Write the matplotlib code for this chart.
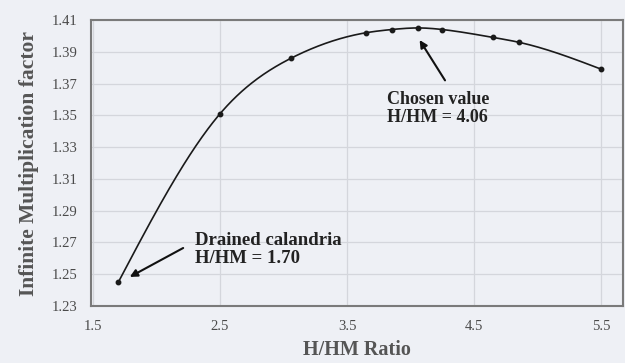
import numpy as np
import matplotlib
matplotlib.use("Agg")
import matplotlib.pyplot as plt

hhm_ratio = [1.70, 2.50, 3.06, 3.65, 3.85, 4.06, 4.25, 4.65, 4.85, 5.50]
k_inf = [1.245, 1.351, 1.386, 1.402, 1.404, 1.405, 1.404, 1.399, 1.396, 1.379]
x_ticks = [1.5, 2.5, 3.5, 4.5, 5.5]
y_ticks = [1.23, 1.25, 1.27, 1.29, 1.31, 1.33, 1.35, 1.37, 1.39, 1.41]


def natural_spline(xs, ys, n=400):
    xs = np.asarray(xs, float); ys = np.asarray(ys, float)
    m = len(xs); h = np.diff(xs)
    A = np.zeros((m, m)); r = np.zeros(m)
    A[0, 0] = A[-1, -1] = 1
    for i in range(1, m-1):
        A[i, i-1] = h[i-1]; A[i, i] = 2*(h[i-1]+h[i]); A[i, i+1] = h[i]
        r[i] = 3*((ys[i+1]-ys[i])/h[i] - (ys[i]-ys[i-1])/h[i-1])
    c = np.linalg.solve(A, r)
    b = (ys[1:]-ys[:-1])/h - h*(2*c[:-1]+c[1:])/3
    d = (c[1:]-c[:-1])/(3*h)
    xx = np.linspace(xs[0], xs[-1], n)
    idx = np.clip(np.searchsorted(xs, xx)-1, 0, m-2)
    dx = xx - xs[idx]
    return xx, ys[idx] + b[idx]*dx + c[idx]*dx**2 + d[idx]*dx**3


bg = "#eef0f5"
serif = "Liberation Serif"
fig = plt.figure(figsize=(6.25, 3.63), dpi=100, facecolor=bg)
ax = fig.add_axes([91/625, 1-306/363, (623-91)/625, (306-20)/363])
ax.set_facecolor(bg)

sx, sy = natural_spline(hhm_ratio, k_inf)
ax.plot(sx, sy, color="#1a1a1a", lw=1.2, zorder=3)
ax.plot(hhm_ratio, k_inf, linestyle="none", marker="o", ms=3.2, color="#1a1a1a", zorder=4)

ax.set_xlim(1.485, 5.67)
ax.set_ylim(1.23, 1.41)
ax.set_xticks(x_ticks)
ax.set_yticks(y_ticks)
ax.set_xticklabels([f"{v:.1f}" for v in x_ticks])
ax.set_yticklabels([f"{v:.2f}" for v in y_ticks])
ax.grid(True, color="#d4d6dc", lw=0.9)
ax.set_axisbelow(True)
for s in ax.spines.values():
    s.set_color("#7a7a7a"); s.set_linewidth(1.5)
ax.tick_params(length=0, labelsize=10.5, colors="#4a4a4a", pad=10)
for lab in ax.get_xticklabels() + ax.get_yticklabels():
    lab.set_fontfamily(serif)

ax.set_xlabel("H/HM Ratio", fontfamily=serif, fontweight="bold",
              fontsize=14.5, color="#555555", labelpad=5)
ax.set_ylabel("Infinite Multiplication factor", fontfamily=serif,
              fontweight="bold", fontsize=15.5, color="#555555", labelpad=9)

ax.text(3.81, 1.3545, "Chosen value\nH/HM = 4.06", fontfamily=serif, fontweight="bold",
        fontsize=13, color="#222222", va="center", ha="left", linespacing=1.1)
ax.annotate("", xy=(4.07, 1.3974), xytext=(4.27, 1.372),
            arrowprops=dict(arrowstyle="-|>", color="#111111", lw=1.5,
                            shrinkA=0, shrinkB=0, mutation_scale=11))
ax.text(2.30, 1.2655, "Drained calandria\nH/HM = 1.70", fontfamily=serif,
        fontweight="bold", fontsize=13.5, color="#222222", va="center", ha="left",
        linespacing=1.1)
ax.annotate("", xy=(1.79, 1.2483), xytext=(2.21, 1.2665),
            arrowprops=dict(arrowstyle="-|>", color="#111111", lw=1.5,
                            shrinkA=0, shrinkB=0, mutation_scale=11))

fig.savefig("out.png", dpi=100, facecolor=bg)
